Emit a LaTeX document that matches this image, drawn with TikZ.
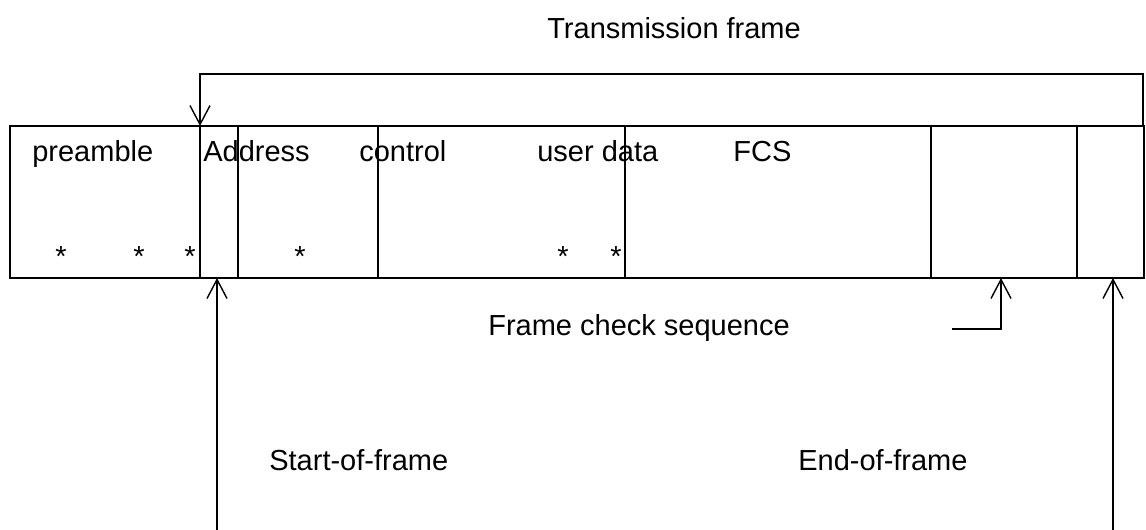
\documentclass[tikz,border=0pt]{standalone}
\usepackage{fontspec}
\setmainfont{Liberation Sans}
\usetikzlibrary{arrows.meta}

\begin{document}
\begin{tikzpicture}
[x=0.02cm,y=-0.02cm,
  textdecorate/.style={font=\fontsize{16.5}{20}\selectfont,inner sep=0pt,anchor=base west},%
  stardecorate/.style={font=\fontsize{16.5}{20}\selectfont,inner sep=0pt,anchor=base},%
  linedecorate/.style={line width=0.8pt},%
  arrowdecorate/.style={-{Straight Barb[length=0.38cm,width=0.4cm]},line width=0.8pt}]
\useasboundingbox (0,0) rectangle (1146,529);
%% the frame and its fields
\node (frame) at (577,202) [draw,linedecorate,inner sep=0pt,outer sep=0pt,
  minimum width=22.68cm,minimum height=3.04cm] {};
\foreach \x in {200,238,378,625,931,1077}
  \draw[linedecorate] (frame.north -| \x,0) -- (frame.south -| \x,0);
%% field labels
\foreach \nodename/\x/\text in {preamble/32/preamble, address/203/Address,
  control/359/control, userdata/537/user data, fcs/733/FCS}
{
  \node (\nodename) at (\x,161) [textdecorate] {\text};
}
\foreach \x [count=\i] in {61,139,190,300,563,616}
{
  \node (star\i) at (\x,266) [stardecorate] {*};
}
%% captions
\node (transmission) at (547,38) [textdecorate] {Transmission frame};
\node (checkseq) at (488,335) [textdecorate] {Frame check sequence};
\node (startframe) at (269,470) [textdecorate] {Start-of-frame};
\node (endframe) at (798,470) [textdecorate] {End-of-frame};
%% connector ends
\coordinate (tfleft) at (frame.north -| 200,0);
\coordinate (tfright) at (frame.north -| 1143,0);
\coordinate (tftop) at (0,74);
\coordinate (sofend) at (217,531);
\coordinate (sofpoint) at (frame.south -| 217,0);
\coordinate (fcsend) at (952,329);
\coordinate (fcspoint) at (frame.south -| 1001,0);
\coordinate (eofend) at (1113,531);
\coordinate (eofpoint) at (frame.south -| 1113,0);
%% connectors
\draw[arrowdecorate,{Straight Barb[length=0.38cm,width=0.4cm]}-]
  (tfleft) -- (tfleft |- tftop) -- (tfright |- tftop) -- (tfright);
\draw[arrowdecorate] (sofend) -- (sofpoint);
\draw[arrowdecorate] (fcsend) -| (fcspoint);
\draw[arrowdecorate] (eofend) -- (eofpoint);
\end{tikzpicture}
\end{document}
